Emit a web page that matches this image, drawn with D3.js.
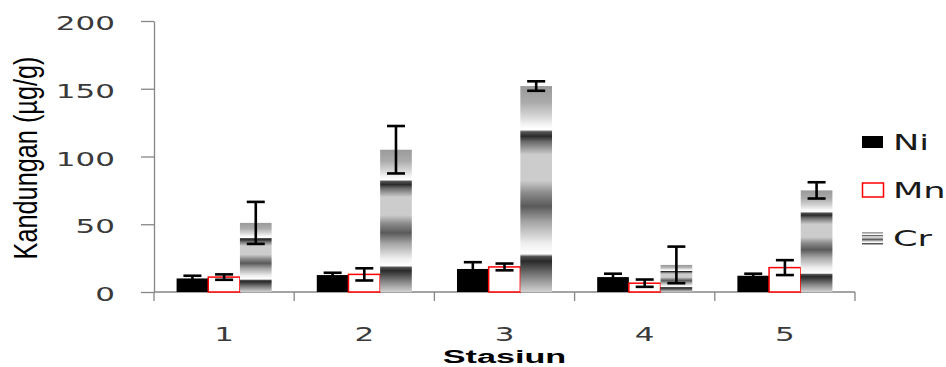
<!DOCTYPE html>
<html>
<head>
<meta charset="utf-8">
<script src="https://cdn.jsdelivr.net/npm/d3@7"></script>
<style>
  html, body { margin: 0; padding: 0; background: #fff; }
  svg { display: block; }
</style>
</head>
<body>
<svg id="chart" width="946" height="367"></svg>
<script>
// ---- data ----
const categories = ["1", "2", "3", "4", "5"];
const seriesNames = ["Ni", "Mn", "Cr"];
const niValues = [10, 12.5, 17, 11, 12];
const niErrors = [2, 1.7, 5, 2.5, 1.5];
const mnValues = [11, 13, 18.5, 6.5, 18];
const mnErrors = [2, 4.5, 2.5, 2.7, 5.5];
const crValues = [51, 105, 152, 20, 75];
const crErrors = [15.5, 17.5, 3.5, 13.5, 6];
const yTicks = [0, 50, 100, 150, 200];
const xTitle = "Stasiun";
const yTitle = "Kandungan (µg/g)";

(function draw() {
const seriesValues = { Ni: niValues, Mn: mnValues, Cr: crValues };
const seriesErrors = { Ni: niErrors, Mn: mnErrors, Cr: crErrors };

// ---- layout ----
const svg = d3.select("#chart");
const plotLeft = 154, plotRight = 855, plotTop = 21, plotBottom = 292;
const axisColor = "#868686";
const labelFont = "'DejaVu Sans', Verdana, sans-serif";
const stretch = 1.55;

const x = d3.scaleBand().domain(categories).range([plotLeft, plotRight]).padding(0);
const xs = d3.scaleBand().domain(seriesNames).range([0, x.bandwidth()])
  .paddingInner(0).paddingOuter(0.713);
const y = d3.scaleLinear().domain([0, 200]).range([plotBottom, plotTop]);

// gradient for Cr bars
const defs = svg.append("defs");
const grad = defs.append("linearGradient").attr("id", "crGrad")
  .attr("x1", 0).attr("y1", 0).attr("x2", 0).attr("y2", 1);
const stops = [
  [0.00, "#9a9a9a"], [0.08, "#ababab"], [0.15, "#d8d8d8"], [0.19, "#f6f6f6"],
  [0.212, "#ffffff"], [0.222, "#555555"], [0.244, "#2a2a2a"], [0.27, "#6a6a6a"],
  [0.333, "#cccccc"], [0.46, "#cccccc"], [0.52, "#8a8a8a"], [0.584, "#5a5a5a"],
  [0.66, "#a5a5a5"], [0.763, "#eeeeee"], [0.815, "#ffffff"], [0.828, "#505050"],
  [0.85, "#2a2a2a"], [0.93, "#888888"], [1.0, "#d2d2d2"]
];
stops.forEach(s => grad.append("stop").attr("offset", s[0]).attr("stop-color", s[1]));

// ---- y axis ----
const yAxis = svg.append("g").attr("transform", `translate(${plotLeft},0)`)
  .call(d3.axisLeft(y).tickValues(yTicks).tickSize(13).tickPadding(26).tickSizeOuter(0));
yAxis.select(".domain").attr("stroke", axisColor).attr("stroke-width", 1.3);
yAxis.selectAll(".tick line").attr("stroke", axisColor).attr("stroke-width", 1.3);
yAxis.selectAll(".tick text")
  .attr("x", 0).attr("dy", "0.43em")
  .attr("transform", `translate(-39,0) scale(${stretch},1)`)
  .attr("fill", "#3a3a3a")
  .style("font-family", labelFont).style("font-size", "20px");

// ---- x axis ----
const xg = svg.append("g");
xg.append("line").attr("x1", plotLeft).attr("x2", plotRight).attr("y1", plotBottom).attr("y2", plotBottom)
  .attr("stroke", axisColor).attr("stroke-width", 1.3);
const boundaries = categories.map(c => x(c)).concat([x.range()[1]]);
xg.selectAll("line.xt").data(boundaries).enter().append("line").attr("class", "xt")
  .attr("x1", d => d).attr("x2", d => d).attr("y1", plotBottom).attr("y2", plotBottom + 9)
  .attr("stroke", axisColor).attr("stroke-width", 1.3);
xg.selectAll("text.xl").data(categories).enter().append("text").attr("class", "xl")
  .attr("transform", d => `translate(${x(d) + x.bandwidth() / 2},340.5) scale(${stretch},1)`)
  .attr("text-anchor", "middle").attr("fill", "#3a3a3a")
  .style("font-family", labelFont).style("font-size", "20px")
  .text(d => d);

// ---- bars ----
const barStyle = {
  Ni: sel => sel.attr("fill", "#000"),
  Mn: sel => sel.attr("fill", "#fff").attr("stroke", "#ff0000").attr("stroke-width", 1.5),
  Cr: sel => sel.attr("fill", "url(#crGrad)")
};
seriesNames.forEach(s => {
  const g = svg.append("g");
  g.selectAll("rect").data(categories).enter().append("rect")
    .attr("x", c => x(c) + xs(s))
    .attr("width", xs.bandwidth())
    .attr("y", (c, i) => y(seriesValues[s][i]))
    .attr("height", (c, i) => y(0) - y(seriesValues[s][i]))
    .call(barStyle[s]);
});

// ---- error bars ----
const eg = svg.append("g").attr("stroke", "#000").attr("stroke-width", 2.6);
seriesNames.forEach(s => {
  categories.forEach((c, i) => {
    const cx = x(c) + xs(s) + xs.bandwidth() / 2;
    const v = seriesValues[s][i], e = seriesErrors[s][i];
    const y1 = y(v + e), y2 = y(v - e);
    eg.append("line").attr("x1", cx).attr("x2", cx).attr("y1", y1).attr("y2", y2);
    eg.append("line").attr("x1", cx - 9).attr("x2", cx + 9).attr("y1", y1).attr("y2", y1);
    eg.append("line").attr("x1", cx - 9).attr("x2", cx + 9).attr("y1", y2).attr("y2", y2);
  });
});

// ---- titles ----
svg.append("text")
  .attr("transform", `translate(${(plotLeft + plotRight) / 2},362.8) scale(1.8,1)`)
  .attr("text-anchor", "middle").attr("fill", "#000")
  .style("font-family", "'Liberation Sans', Arial, sans-serif")
  .style("font-size", "19px").style("font-weight", "bold")
  .text(xTitle);

svg.append("text")
  .attr("transform", `translate(37,158) rotate(-90) scale(1,1.35)`)
  .attr("text-anchor", "middle").attr("fill", "#000")
  .attr("textLength", 203).attr("lengthAdjust", "spacingAndGlyphs")
  .style("font-family", "'Liberation Sans', Arial, sans-serif")
  .style("font-size", "24px")
  .text(yTitle);

// ---- legend ----
const legendRows = [
  { name: "Ni", y: 142 },
  { name: "Mn", y: 190 },
  { name: "Cr", y: 238.5 }
];
const lg = svg.append("g");
legendRows.forEach(r => {
  const rect = lg.append("rect").attr("x", 862).attr("width", 21);
  if (r.name === "Mn") {
    rect.attr("x", 862.5).attr("y", r.y - 7).attr("height", 14).attr("width", 21)
      .attr("fill", "#fff").attr("stroke", "#ff0000").attr("stroke-width", 1.5);
  } else if (r.name === "Ni") {
    rect.attr("y", r.y - 6).attr("height", 12).attr("fill", "#000");
  } else {
    rect.attr("y", r.y - 6.5).attr("height", 13).attr("fill", "url(#crGrad)");
  }
  lg.append("text")
    .attr("transform", `translate(893,${r.y + 7.5}) scale(1.6,1)`)
    .attr("fill", "#1a1a1a")
    .style("font-family", labelFont).style("font-size", "22px")
    .text(r.name);
});
})();
</script>
</body>
</html>
